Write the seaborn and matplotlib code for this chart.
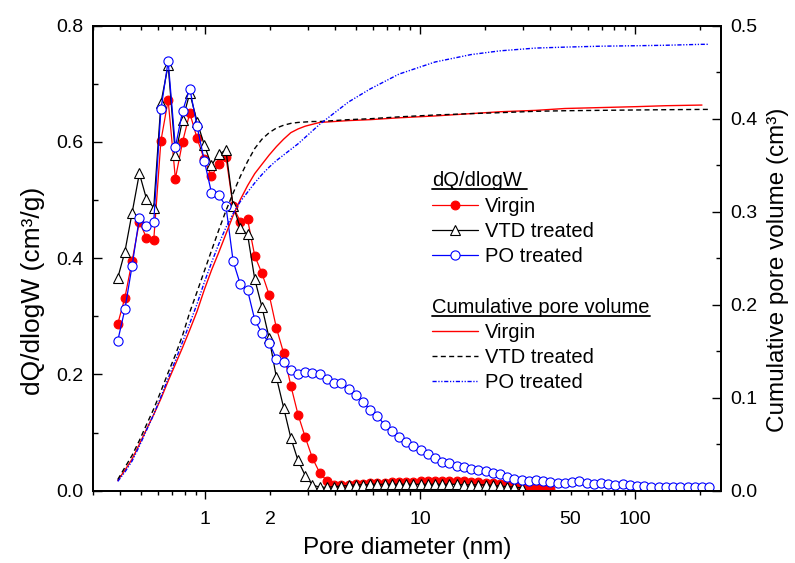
import numpy as np
import pandas as pd
import matplotlib
matplotlib.use("Agg")
import matplotlib.pyplot as plt
import seaborn as sns
from matplotlib.ticker import FixedLocator, FuncFormatter, MultipleLocator, FormatStrFormatter
from matplotlib.lines import Line2D

# ---------------- data ----------------
pore_d = [0.391, 0.422, 0.456, 0.493, 0.532, 0.575, 0.621, 0.671, 0.725, 0.783,
          0.846, 0.915, 0.988, 1.067, 1.153, 1.246, 1.346, 1.454, 1.571, 1.697,
          1.833, 1.981, 2.140, 2.312, 2.497, 2.698, 2.915, 3.149, 3.402, 3.675,
          3.970, 4.289, 4.634, 5.006, 5.408, 5.843, 6.312, 6.819, 7.367, 7.958,
          8.598, 9.290, 10.03, 10.84, 11.71, 12.65, 13.67, 14.77, 15.96, 17.24,
          18.62, 20.12, 21.73, 23.48, 25.37, 27.41, 29.61, 31.99, 34.56, 37.33,
          40.33, 43.58, 47.08, 50.86, 54.94, 59.36, 64.12, 69.28, 74.84, 80.85,
          87.35, 94.36, 101.9, 110.1, 119.0, 128.5, 138.9, 150.0, 162.1, 175.1,
          189.2, 204.4, 220.8]

virgin_dq = [0.287, 0.332, 0.395, 0.463, 0.435, 0.431, 0.602, 0.672, 0.537, 0.600,
             0.650, 0.606, 0.570, 0.541, 0.562, 0.575, 0.489, 0.463, 0.467, 0.404,
             0.374, 0.337, 0.280, 0.237, 0.181, 0.131, 0.092, 0.056, 0.031, 0.017,
             0.009, 0.009, 0.010, 0.011, 0.012, 0.013, 0.014, 0.014, 0.015, 0.015,
             0.015, 0.015, 0.016, 0.016, 0.016, 0.016, 0.016, 0.016, 0.016, 0.015,
             0.015, 0.014, 0.013, 0.012, 0.011, 0.009, 0.007, 0.006, 0.005, 0.004,
             0.003]

vtd_dq = [0.366, 0.411, 0.478, 0.546, 0.502, 0.487, 0.667, 0.732, 0.578, 0.638,
          0.684, 0.635, 0.595, 0.560, 0.579, 0.586, 0.490, 0.452, 0.441, 0.364,
          0.316, 0.262, 0.195, 0.143, 0.091, 0.052, 0.026, 0.010, 0.006, 0.006,
          0.007, 0.008, 0.009, 0.010, 0.010, 0.011, 0.011, 0.011, 0.011, 0.011,
          0.011, 0.011, 0.011, 0.011, 0.011, 0.011, 0.011, 0.011, 0.010, 0.010,
          0.010, 0.010, 0.009, 0.008, 0.007, 0.006, 0.005]

po_dq = [0.258, 0.312, 0.387, 0.470, 0.455, 0.463, 0.656, 0.739, 0.591, 0.653,
         0.692, 0.627, 0.568, 0.513, 0.508, 0.490, 0.395, 0.355, 0.345, 0.294,
         0.271, 0.254, 0.227, 0.221, 0.208, 0.201, 0.205, 0.203, 0.201, 0.193,
         0.186, 0.185, 0.175, 0.165, 0.153, 0.139, 0.129, 0.113, 0.103, 0.092,
         0.084, 0.077, 0.070, 0.063, 0.057, 0.050, 0.047, 0.043, 0.041, 0.037,
         0.036, 0.034, 0.030, 0.028, 0.024, 0.021, 0.018, 0.017, 0.018, 0.017,
         0.015, 0.013, 0.013, 0.015, 0.017, 0.013, 0.012, 0.013, 0.012, 0.010,
         0.012, 0.010, 0.008, 0.008, 0.007, 0.007, 0.007, 0.007, 0.006, 0.007,
         0.007, 0.006, 0.006]

cum_d = [0.391, 0.422, 0.456, 0.493, 0.532, 0.575, 0.621, 0.671, 0.725, 0.783,
         0.846, 0.915, 0.988, 1.067, 1.153, 1.246, 1.346, 1.454, 1.571, 1.697,
         1.833, 1.981, 2.140, 2.312, 2.497, 2.698, 2.915, 3.149, 3.402, 3.970,
         4.634, 5.843, 7.958, 11.71, 17.24, 23.48, 34.56, 47.08, 69.28, 101.9,
         138.9, 204.4, 220.8]

virgin_cum = [0.011, 0.022, 0.034, 0.050, 0.066, 0.082, 0.099, 0.118, 0.136, 0.154,
              0.173, 0.193, 0.216, 0.237, 0.256, 0.276, 0.296, 0.313, 0.328, 0.341,
              0.351, 0.361, 0.370, 0.378, 0.385, 0.389, 0.392, 0.394, 0.396, 0.397,
              0.398, 0.399, 0.401, 0.403, 0.4055, 0.4075, 0.409, 0.411, 0.412, 0.413,
              0.414, 0.4147]

vtd_cum = [0.012, 0.025, 0.038, 0.054, 0.071, 0.088, 0.107, 0.127, 0.146, 0.167,
           0.192, 0.214, 0.236, 0.258, 0.280, 0.301, 0.320, 0.338, 0.354, 0.368,
           0.378, 0.385, 0.390, 0.393, 0.395, 0.396, 0.3965, 0.397, 0.397, 0.398,
           0.399, 0.400, 0.402, 0.404, 0.4055, 0.4065, 0.408, 0.4086, 0.409, 0.4094,
           0.4097, 0.410, 0.410]

po_cum = [0.010, 0.020, 0.032, 0.048, 0.065, 0.082, 0.101, 0.121, 0.140, 0.160,
          0.180, 0.201, 0.224, 0.245, 0.265, 0.283, 0.298, 0.311, 0.321, 0.331,
          0.340, 0.348, 0.355, 0.361, 0.367, 0.373, 0.380, 0.387, 0.394, 0.406,
          0.418, 0.432, 0.448, 0.461, 0.469, 0.473, 0.476, 0.477, 0.478, 0.4785,
          0.479, 0.480, 0.480]

x_major = [1, 10, 100]
x_minor_labels = {2: "2", 50: "50"}
series_names = ["Virgin", "VTD treated", "PO treated"]

# ---------------- style ----------------
sns.set_style("ticks", rc={"axes.edgecolor": "black", "text.color": "black",
                           "xtick.color": "black", "ytick.color": "black",
                           "axes.labelcolor": "black"})
plt.rcParams['font.family'] = ['Liberation Sans', 'DejaVu Sans']

fig = plt.figure(figsize=(7.95, 5.63), dpi=100)
ax = fig.add_axes([0.1170, 0.1284, 0.7896, 0.8259])
ax2 = ax.twinx()

# dQ/dlogW series
sns.lineplot(x=pore_d[:len(virgin_dq)], y=virgin_dq, ax=ax, color="red", linewidth=0.9,
             marker="o", markersize=6.3, markerfacecolor="red", markeredgecolor="red",
             markeredgewidth=0.8)
sns.lineplot(x=pore_d[:len(vtd_dq)], y=vtd_dq, ax=ax, color="black", linewidth=0.9,
             marker="^", markersize=7.5, markerfacecolor="white", markeredgecolor="black",
             markeredgewidth=0.8)
sns.lineplot(x=pore_d[:len(po_dq)], y=po_dq, ax=ax, color="blue", linewidth=0.9,
             marker="o", markersize=6.6, markerfacecolor="white", markeredgecolor="blue",
             markeredgewidth=0.8)

# cumulative series
sns.lineplot(x=cum_d[:len(virgin_cum)], y=virgin_cum, ax=ax2, color="red", linewidth=1.0)
sns.lineplot(x=cum_d[:len(vtd_cum)], y=vtd_cum, ax=ax2, color="black", linewidth=1.0)
ax2.lines[-1].set_dashes((3.6, 2.4))
sns.lineplot(x=cum_d[:len(po_cum)], y=po_cum, ax=ax2, color="blue", linewidth=1.0)
ax2.lines[-1].set_dashes((3.0, 1.2, 0.9, 1.2, 0.9, 1.2))

# ---------------- axes ----------------
ax.set_xscale("log")
ax.set_xlim(0.3, 250)
ax.set_ylim(0, 0.8)
ax2.set_ylim(0, 0.5)

ax.xaxis.set_major_locator(FixedLocator(x_major))
ax.xaxis.set_major_formatter(FuncFormatter(lambda v, p: f"{v:g}"))
minor_pos = [m * 10.0 ** e for e in range(-1, 3) for m in range(2, 10)]
ax.xaxis.set_minor_locator(FixedLocator(minor_pos))
ax.xaxis.set_minor_formatter(FuncFormatter(
    lambda v, p: x_minor_labels.get(int(round(v)), "") if abs(v - round(v)) < 1e-6 else ""))

ax.yaxis.set_major_locator(MultipleLocator(0.2))
ax.yaxis.set_minor_locator(MultipleLocator(0.1))
ax.yaxis.set_major_formatter(FormatStrFormatter("%.1f"))
ax2.yaxis.set_major_locator(MultipleLocator(0.1))
ax2.yaxis.set_minor_locator(MultipleLocator(0.05))
ax2.yaxis.set_major_formatter(FormatStrFormatter("%.1f"))

tick_fs = 14
ax.tick_params(axis="x", which="major", direction="out", length=5.8, width=1.0,
               labelsize=tick_fs, pad=8.5, top=False, bottom=True)
ax.tick_params(axis="x", which="minor", direction="out", length=3.2, width=1.0,
               labelsize=tick_fs, pad=11.1, top=False, bottom=True)
ax.tick_params(axis="y", which="major", direction="in", length=6.5, width=1.0,
               labelsize=tick_fs, pad=7, left=True, right=False)
ax.tick_params(axis="y", which="minor", direction="in", length=3.6, width=1.0,
               left=True, right=False)
ax2.tick_params(axis="y", which="major", direction="in", length=6.5, width=1.0,
                labelsize=tick_fs, pad=7, right=True, left=False)
ax2.tick_params(axis="y", which="minor", direction="in", length=3.6, width=1.0,
                right=True, left=False)
ax2.xaxis.set_visible(True)
ax2.tick_params(axis="x", which="major", direction="in", length=5.8, width=1.0,
                top=True, bottom=False, labeltop=False, labelbottom=False)
ax2.tick_params(axis="x", which="minor", direction="in", length=3.2, width=1.0,
                top=True, bottom=False, labeltop=False, labelbottom=False)

for a in (ax, ax2):
    for s in a.spines.values():
        s.set_linewidth(1.3)
        s.set_visible(True)

ax.set_xlabel("Pore diameter (nm)", fontsize=17.5, labelpad=7)
ax.set_ylabel("dQ/dlogW (cm³/g)", fontsize=19, labelpad=8)
ax2.set_ylabel("Cumulative pore volume (cm³)", fontsize=17.5, labelpad=7)
ax.yaxis.label.set_y(0.43)
ax2.yaxis.label.set_y(0.474)
ax2.set_xlabel("")

# ---------------- legend (manual) ----------------
def af(px, py):
    return ((px - 93.0) / 627.7, (490.7 - py) / 465.0)

leg_fs = 14.5
dq_styles = [dict(color="red", marker="o", mfc="red", mec="red", ms=6.3),
             dict(color="black", marker="^", mfc="white", mec="black", ms=7.5),
             dict(color="blue", marker="o", mfc="white", mec="blue", ms=6.6)]
cum_styles = [dict(color="red"), dict(color="black", dashes=(3.6, 2.4)),
              dict(color="blue", dashes=(3.0, 1.2, 0.9, 1.2, 0.9, 1.2))]

titles = []
x_h0, x_h1, x_txt = 432, 478, 485
t1 = ax2.text(*af(x_h0, 186), "dQ/dlogW", transform=ax2.transAxes, fontsize=leg_fs,
              ha="left", va="baseline")
titles.append((t1, 5))
for i, (name, st) in enumerate(zip(series_names, dq_styles)):
    yc = 205 + 25 * i
    (x0, y0), (x1, _) = af(x_h0, yc), af(x_h1, yc)
    ax2.add_line(Line2D([x0, x1], [y0, y0], transform=ax2.transAxes, color=st["color"],
                        lw=0.9, clip_on=False))
    xm, _ = af((x_h0 + x_h1) / 2, yc)
    ax2.add_line(Line2D([xm], [y0], transform=ax2.transAxes, linestyle="none",
                        marker=st["marker"], ms=st["ms"], mfc=st["mfc"], mec=st["mec"],
                        mew=0.8, clip_on=False))
    ax2.text(*af(x_txt, yc + 7), name, transform=ax2.transAxes, fontsize=leg_fs,
             ha="left", va="baseline")

t2 = ax2.text(*af(x_h0, 312.5), "Cumulative pore volume", transform=ax2.transAxes,
              fontsize=leg_fs, ha="left", va="baseline")
titles.append((t2, 0))
for i, (name, st) in enumerate(zip(series_names, cum_styles)):
    yc = 331 + 25 * i
    (x0, y0), (x1, _) = af(x_h0, yc), af(x_h1, yc)
    ln = Line2D([x0, x1], [y0, y0], transform=ax2.transAxes, color=st["color"],
                lw=1.0, clip_on=False)
    if "dashes" in st:
        ln.set_dashes(st["dashes"])
    ax2.add_line(ln)
    ax2.text(*af(x_txt, yc + 7), name, transform=ax2.transAxes, fontsize=leg_fs,
             ha="left", va="baseline")

fig.canvas.draw()
renderer = fig.canvas.get_renderer()
inv = ax2.transAxes.inverted()
for t, extra in titles:
    bb = t.get_window_extent(renderer)
    bx, by = ax2.transAxes.transform(t.get_position())
    (ux0, uy), (ux1, _) = inv.transform([(bb.x0, by - 3), (bb.x1 + extra, by - 3)])
    ax2.add_line(Line2D([ux0, ux1], [uy, uy], transform=ax2.transAxes, color="black",
                        lw=1.3, clip_on=False))

fig.savefig("out.png", dpi=100)
